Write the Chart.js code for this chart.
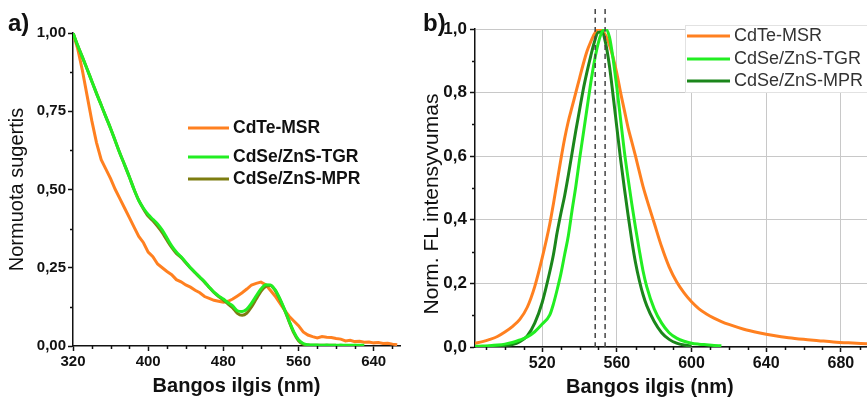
<!DOCTYPE html>
<html>
<head>
<meta charset="utf-8">
<script src="https://cdn.jsdelivr.net/npm/chart.js@4.4.1/dist/chart.umd.min.js"></script>
<style>
  html, body { margin: 0; padding: 0; background: #fff; }
  body { width: 867px; height: 399px; position: relative; overflow: hidden; font-family: "Liberation Sans", Arial, sans-serif; }
  canvas { position: absolute; top: 0; }
  #absChart { left: 0; }
  #plChart { left: 420px; }
  .panel { position: absolute; font-weight: bold; font-size: 24px; line-height: 24px; color: #111; }
  #xTitleB { position: absolute; left: 566px; top: 375px; font-weight: bold; font-size: 20px; color: #111; white-space: nowrap; }
  #yTitleB { position: absolute; left: 431px; top: 204px; font-size: 21px; line-height: 22px; color: #111; white-space: nowrap;
             transform: translate(-50%, -50%) rotate(-90deg); }
</style>
</head>
<body>
<canvas id="absChart" width="420" height="399"></canvas>
<canvas id="plChart" width="447" height="399"></canvas>
<div class="panel" style="left:8px; top:11px;">a)</div>
<div class="panel" style="left:423px; top:11px;">b)</div>
<div id="xTitleB">Bangos ilgis (nm)</div>
<div id="yTitleB">Norm. FL intensyvumas</div>
<script>
// --- a) absorption ---
const absNm = [320, 325, 330, 335, 340, 345, 350, 355, 360, 365,
    370, 375, 380, 385, 390, 395, 400, 405, 410, 415,
    420, 425, 430, 435, 440, 445, 450, 455, 460, 465,
    470, 475, 480, 485, 490, 495, 500, 505, 510, 515,
    520, 525, 530, 535, 540, 545, 550, 555, 560, 565,
    570, 575, 580, 585, 590, 595, 600, 605, 610, 615,
    620, 625, 630, 635, 640, 645, 650, 655, 660, 665];
const absCdTe = [1.0, 0.95, 0.88, 0.8, 0.72, 0.65, 0.595, 0.565, 0.535, 0.5,
    0.47, 0.44, 0.41, 0.38, 0.35, 0.33, 0.3, 0.285, 0.262, 0.25,
    0.238, 0.228, 0.212, 0.205, 0.195, 0.188, 0.178, 0.17, 0.158, 0.152,
    0.146, 0.143, 0.14, 0.143, 0.15, 0.16, 0.17, 0.182, 0.195, 0.2,
    0.204, 0.196, 0.178, 0.16, 0.138, 0.115, 0.095, 0.08, 0.065, 0.045,
    0.035, 0.03, 0.026, 0.03, 0.028, 0.027, 0.024, 0.022, 0.016, 0.018,
    0.014, 0.015, 0.012, 0.013, 0.01, 0.011, 0.008, 0.009, 0.006, 0.004];
const absTGR = [1.0, 0.96, 0.923, 0.885, 0.846, 0.807, 0.77, 0.732, 0.695, 0.655,
    0.615, 0.578, 0.54, 0.5, 0.465, 0.44, 0.42, 0.405, 0.39, 0.37,
    0.345, 0.32, 0.3, 0.285, 0.268, 0.25, 0.235, 0.22, 0.205, 0.188,
    0.172, 0.16, 0.15, 0.138, 0.128, 0.112, 0.11, 0.118, 0.137, 0.16,
    0.182, 0.196, 0.195, 0.18, 0.152, 0.118, 0.08, 0.045, 0.02, 0.008,
    0.004, 0.003, 0.003, 0.002, 0.003, 0.002, 0.002, 0.003, 0.002, 0.002,
    0.002, 0.002, 0.002, null, null, null, null, null, null, null];
const absMPR = [1.0, 0.96, 0.923, 0.885, 0.846, 0.807, 0.77, 0.732, 0.695, 0.655,
    0.615, 0.578, 0.54, 0.5, 0.465, 0.438, 0.415, 0.4, 0.382, 0.362,
    0.338, 0.315, 0.296, 0.283, 0.266, 0.249, 0.234, 0.219, 0.204, 0.187,
    0.171, 0.158, 0.147, 0.134, 0.122, 0.104, 0.098, 0.105, 0.125, 0.15,
    0.175, 0.19, 0.193, 0.178, 0.15, 0.116, 0.078, 0.042, 0.017, 0.006,
    0.003, 0.002, 0.002, 0.002, 0.002, 0.002, 0.002, null, null, null,
    null, null, null, null, null, null, null, null, null, null];
const absXTicks = [320, 400, 480, 560, 640];
const absXMinor = [340, 360, 380, 420, 440, 460, 500, 520, 540, 580, 600, 620, 660];
const absYTicks = [0, 0.25, 0.5, 0.75, 1];
const absYLabels = ['0,00', '0,25', '0,50', '0,75', '1,00'];
const absYMinor = [0.125, 0.375, 0.625, 0.875];

// --- b) photoluminescence ---
const plNm = [484, 488, 492, 496, 500, 504, 508, 512, 516, 520,
    524, 526, 528, 530, 532, 534, 536, 538, 540, 542,
    544, 546, 548, 550, 552, 554, 556, 558, 560, 562,
    564, 566, 568, 570, 572, 574, 576, 580, 584, 588,
    592, 596, 600, 604, 608, 612, 616, 620, 628, 636,
    644, 652, 660, 668, 676, 684, 694];
const plCdTe = [0.012, 0.017, 0.024, 0.033, 0.047, 0.064, 0.087, 0.125, 0.19, 0.28,
    0.385, 0.45, 0.52, 0.59, 0.655, 0.71, 0.755, 0.8, 0.845, 0.89,
    0.93, 0.96, 0.985, 1.0, 0.995, 0.98, 0.95, 0.91, 0.86, 0.8,
    0.745, 0.69, 0.645, 0.6, 0.552, 0.505, 0.465, 0.39, 0.315, 0.252,
    0.205, 0.17, 0.142, 0.12, 0.104, 0.091, 0.08, 0.071, 0.056, 0.045,
    0.036, 0.029, 0.024, 0.02, 0.016, 0.013, 0.01];
const plTGR = [0.002, 0.003, 0.004, 0.006, 0.009, 0.014, 0.022, 0.032, 0.048, 0.072,
    0.1, 0.135, 0.18, 0.23, 0.29, 0.35, 0.43, 0.505, 0.59, 0.67,
    0.75, 0.83, 0.9, 0.955, 0.99, 1.0, 0.975, 0.905, 0.815, 0.715,
    0.615, 0.53, 0.45, 0.375, 0.305, 0.24, 0.19, 0.12, 0.075, 0.045,
    0.028, 0.018, 0.012, 0.009, 0.007, 0.005, 0.004, null, null, null,
    null, null, null, null, null, null, null];
const plMPR = [0.001, 0.001, 0.002, 0.003, 0.005, 0.008, 0.017, 0.035, 0.075, 0.14,
    0.235, 0.29, 0.36, 0.42, 0.475, 0.54, 0.61, 0.68, 0.745, 0.81,
    0.865, 0.915, 0.96, 0.99, 0.99, 0.955, 0.885, 0.79, 0.69, 0.59,
    0.5, 0.415, 0.335, 0.265, 0.21, 0.165, 0.13, 0.08, 0.045, 0.024,
    0.012, 0.006, 0.003, null, null, null, null, null, null, null,
    null, null, null, null, null, null, null];
const plPeakLines = [548.4, 553.7];
const plXTicks = [520, 560, 600, 640, 680];
const plXMinor = [490, 500, 510, 530, 540, 550, 570, 580, 590, 610, 620, 630, 650, 660, 670, 690];
const plYTicks = [0, 0.2, 0.4, 0.6, 0.8, 1];
const plYLabels = ['0,0', '0,2', '0,4', '0,6', '0,8', '1,0'];
const plYMinor = [0.1, 0.3, 0.5, 0.7, 0.9];

const seriesNames = ['CdTe-MSR', 'CdSe/ZnS-TGR', 'CdSe/ZnS-MPR'];

Chart.defaults.font.family = '"Liberation Sans", Arial, sans-serif';
Chart.defaults.color = '#111';

function points(xs, ys) {
    const out = [];
    xs.forEach((x, i) => { if (ys[i] !== null) out.push({ x: x, y: ys[i] }); });
    return out;
}

// small tick marks between the labelled ones
const minorTicks = {
    id: 'minorTicks',
    afterDraw(chart, args, opts) {
        const { ctx, chartArea, scales } = chart;
        ctx.save();
        ctx.strokeStyle = '#111';
        ctx.lineWidth = 1.5;
        ctx.beginPath();
        opts.x.forEach(v => {
            const px = Math.round(scales.x.getPixelForValue(v)) + 0.5;
            ctx.moveTo(px, chartArea.bottom);
            ctx.lineTo(px, chartArea.bottom + opts.len);
        });
        opts.y.forEach(v => {
            const py = Math.round(scales.y.getPixelForValue(v)) + 0.5;
            ctx.moveTo(chartArea.left, py);
            ctx.lineTo(chartArea.left - opts.len, py);
        });
        ctx.stroke();
        ctx.restore();
    }
};

// legend drawn inside the plot
const insideLegend = {
    id: 'insideLegend',
    afterDatasetsDraw(chart, args, opts) {
        const ctx = chart.ctx;
        ctx.save();
        if (opts.box) {
            ctx.fillStyle = '#fff';
            ctx.fillRect(opts.box[0], opts.box[1], opts.box[2], opts.box[3]);
            ctx.strokeStyle = '#e2e2e2';
            ctx.lineWidth = 1;
            ctx.strokeRect(opts.box[0] + 0.5, opts.box[1] + 0.5, opts.box[2], opts.box[3]);
        }
        ctx.font = opts.font;
        ctx.textBaseline = 'middle';
        chart.data.datasets.filter(d => d.label).forEach((d, i) => {
            const y = opts.rows[i];
            ctx.strokeStyle = d.borderColor;
            ctx.lineWidth = 3;
            ctx.beginPath();
            ctx.moveTo(opts.x, y);
            ctx.lineTo(opts.x + opts.lineLen, y);
            ctx.stroke();
            ctx.fillStyle = opts.color;
            ctx.fillText(d.label, opts.x + opts.lineLen + 4, y);
        });
        ctx.restore();
    }
};

function setTicks(values) {
    return scale => { scale.ticks = values.map(v => ({ value: v })); };
}

new Chart(document.getElementById('absChart'), {
    type: 'line',
    data: {
        datasets: [
            { label: seriesNames[0], data: points(absNm, absCdTe), borderColor: '#ff8020', order: 2 },
            { label: seriesNames[1], data: points(absNm, absTGR), borderColor: '#22ee22', order: 0, cubicInterpolationMode: 'monotone' },
            { label: seriesNames[2], data: points(absNm, absMPR), borderColor: '#7d7d10', order: 1, cubicInterpolationMode: 'monotone' }
        ]
    },
    options: {
        responsive: false,
        animation: false,
        events: [],
        layout: { padding: { left: 0, top: 33, right: 20, bottom: 0 } },
        elements: { point: { radius: 0 }, line: { borderWidth: 3 } },
        plugins: {
            legend: { display: false },
            tooltip: { enabled: false },
            minorTicks: { x: absXMinor, y: absYMinor, len: 3 },
            insideLegend: { x: 188, rows: [128, 157, 179], lineLen: 41, font: 'bold 17.5px "Liberation Sans"', color: '#111' }
        },
        scales: {
            x: {
                type: 'linear', min: 320, max: 668,
                afterBuildTicks: setTicks(absXTicks),
                afterFit: s => { s.height = 53; },
                grid: { drawOnChartArea: false, tickLength: 5, tickColor: '#111', tickWidth: 1.5 },
                border: { color: '#111', width: 1.5 },
                ticks: { autoSkip: false, maxRotation: 0, padding: 2, font: { size: 15, weight: 'bold' }, color: '#111' },
                title: { display: true, text: 'Bangos ilgis (nm)', font: { size: 20, weight: 'bold' }, padding: { top: 0, bottom: 1 }, color: '#111' }
            },
            y: {
                min: 0, max: 1,
                afterBuildTicks: setTicks(absYTicks),
                afterFit: s => { s.width = 73; },
                grid: { drawOnChartArea: false, tickLength: 5, tickColor: '#111', tickWidth: 1.5 },
                border: { color: '#111', width: 1.5 },
                ticks: { autoSkip: false, padding: 2, font: { size: 15, weight: 'bold' }, color: '#111',
                    callback: (v, i) => absYLabels[i] },
                title: { display: true, text: 'Normuota sugertis', font: { size: 20 }, padding: { top: 5, bottom: 0 }, color: '#111' }
            }
        }
    },
    plugins: [minorTicks, insideLegend]
});

new Chart(document.getElementById('plChart'), {
    type: 'line',
    data: {
        datasets: [
            { label: seriesNames[0], data: points(plNm, plCdTe), borderColor: '#ff8020', order: 3 },
            { label: seriesNames[1], data: points(plNm, plTGR), borderColor: '#22ee22', order: 1 },
            { label: seriesNames[2], data: points(plNm, plMPR), borderColor: '#1b861b', order: 2 },
            { data: [{ x: plPeakLines[0], y: 0 }, { x: plPeakLines[0], y: 1.075 }], borderColor: '#444', borderWidth: 1.5, borderDash: [5, 4], clip: false, order: 0 },
            { data: [{ x: plPeakLines[1], y: 0 }, { x: plPeakLines[1], y: 1.075 }], borderColor: '#444', borderWidth: 1.5, borderDash: [5, 4], clip: false, order: 0 }
        ]
    },
    options: {
        responsive: false,
        animation: false,
        events: [],
        layout: { padding: { left: 0, top: 29, right: 0, bottom: 0 } },
        elements: { point: { radius: 0 }, line: { borderWidth: 3, cubicInterpolationMode: 'monotone' } },
        plugins: {
            legend: { display: false },
            tooltip: { enabled: false },
            minorTicks: { x: plXMinor, y: plYMinor, len: 3 },
            insideLegend: { x: 267, rows: [36, 59, 81], lineLen: 43, font: '18px "Liberation Sans"', color: '#333', box: [265, 25, 200, 67] }
        },
        scales: {
            x: {
                type: 'linear', min: 484, max: 694,
                afterBuildTicks: setTicks(plXTicks),
                afterFit: s => { s.height = 52; },
                grid: { color: '#c8c8c8', lineWidth: 1, tickLength: 5, tickColor: '#111', tickWidth: 1.5 },
                border: { color: '#111', width: 1.5 },
                ticks: { autoSkip: false, maxRotation: 0, padding: 2, font: { size: 16, weight: 'bold' }, color: '#111' },
                title: { display: false }
            },
            y: {
                min: 0, max: 1,
                afterBuildTicks: setTicks(plYTicks),
                afterFit: s => { s.width = 55; },
                grid: { color: '#c8c8c8', lineWidth: 1, tickLength: 5, tickColor: '#111', tickWidth: 1.5 },
                border: { color: '#111', width: 1.5 },
                ticks: { autoSkip: false, padding: 3, font: { size: 17, weight: 'bold' }, color: '#111',
                    callback: (v, i) => plYLabels[i] },
                title: { display: false }
            }
        }
    },
    plugins: [minorTicks, insideLegend]
});
</script>
</body>
</html>
